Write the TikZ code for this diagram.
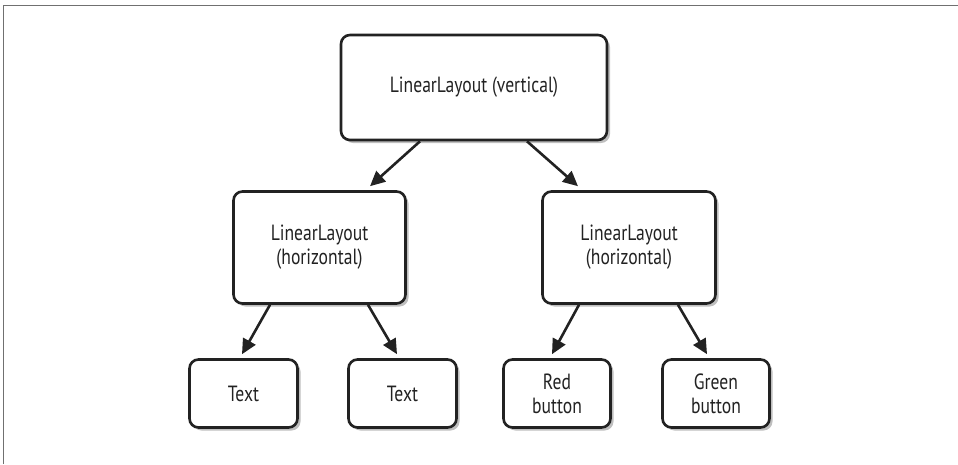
\documentclass[tikz,border=0pt]{standalone}
\usepackage{fontspec}
\setmainfont[FakeStretch=0.8]{PT Sans}
\usetikzlibrary{arrows.meta,shadows}
\definecolor{ink}{HTML}{222222}
\definecolor{framegray}{HTML}{707070}
\tikzset{
  box/.style={draw=ink, line width=2.6pt, rounded corners=9pt, fill=white,
    inner sep=0pt, align=center, text=ink,
    font=\fontsize{22}{24}\selectfont,
    drop shadow={shadow xshift=3pt, shadow yshift=-3pt, fill=black, opacity=0.25}},
  arr/.style={draw=ink, line width=2.6pt, -{Triangle[length=15pt,width=14pt]}},
}
\begin{document}
\begin{tikzpicture}[x=1pt,y=-1pt]
\useasboundingbox (0,0) rectangle (958,464);
\draw[framegray, line width=1.6pt] (3.5,464) -- (3.5,5.5) -- (958,5.5);
\node[box, minimum width=266pt, minimum height=105pt] (top) at (474,87.5) {LinearLayout (vertical)};
\node[box, minimum width=172pt, minimum height=112pt] (mid1) at (319.5,247.5) {LinearLayout\\(horizontal)};
\node[box, minimum width=173pt, minimum height=112pt] (mid2) at (629,247.5) {LinearLayout\\(horizontal)};
\node[box, minimum width=108pt, minimum height=68pt] (t1) at (243.5,393.5) {Text};
\node[box, minimum width=108pt, minimum height=68pt] (t2) at (402.5,393.5) {Text};
\node[box, minimum width=107pt, minimum height=68pt] (red) at (557,393.5) {Red\\button};
\node[box, minimum width=107pt, minimum height=68pt] (green) at (716,393.5) {Green\\button};
\draw[arr] ([xshift=-54pt]top.south) -- ([xshift=50.5pt,yshift=4pt]mid1.north);
\draw[arr] ([xshift=53pt]top.south) -- ([xshift=-51pt,yshift=4pt]mid2.north);
\draw[arr] ([xshift=-49.5pt]mid1.south) -- ([xshift=-1.5pt,yshift=4pt]t1.north);
\draw[arr] ([xshift=48.5pt]mid1.south) -- ([xshift=-5.5pt,yshift=4pt]t2.north);
\draw[arr] ([xshift=-50pt]mid2.south) -- ([xshift=-5pt,yshift=4pt]red.north);
\draw[arr] ([xshift=49pt]mid2.south) -- ([xshift=-9pt,yshift=4pt]green.north);
\end{tikzpicture}
\end{document}
